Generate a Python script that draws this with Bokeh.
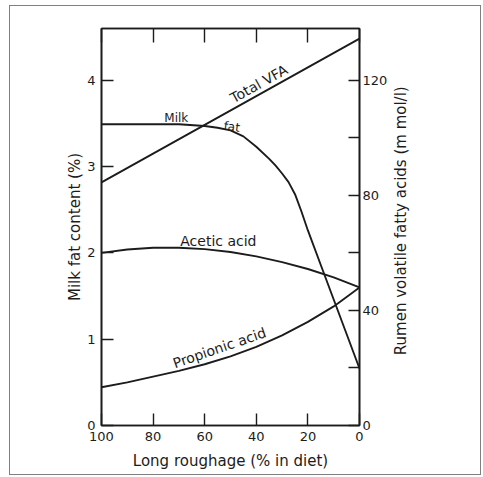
from bokeh.plotting import figure
from bokeh.layouts import row
from bokeh.models import Range1d, LinearAxis, FixedTicker, Label, InlineStyleSheet
from bokeh.embed import file_html
from bokeh.resources import INLINE

# ---- data ----
x_ticks = [100, 80, 60, 40, 20, 0]
fat_ticks = [0, 1, 2, 3, 4]
vfa_major_ticks = [0, 40, 80, 120]
vfa_minor_ticks = [20, 60, 100]

fat_x = [100, 80, 70, 60, 55, 50, 45, 40, 35, 32.5, 30, 27.5, 25, 22.5, 20, 15, 10, 5, 0]
milk_fat = [3.49, 3.49, 3.49, 3.47, 3.45, 3.42, 3.35, 3.23, 3.09, 3.01, 2.92, 2.82, 2.68, 2.48, 2.26, 1.86, 1.46, 1.06, 0.66]

vfa_x = [100, 80, 60, 40, 20, 0]
total_vfa = [84.5, 94.5, 104.5, 114.5, 124.5, 134.5]

acid_x = [100, 90, 80, 70, 60, 50, 40, 30, 20, 10, 0]
acetic = [60.0, 61.2, 61.8, 61.8, 61.3, 60.3, 58.8, 56.8, 54.4, 51.5, 48.0]
propionic = [13.3, 15.0, 17.0, 19.0, 21.3, 24.0, 27.3, 31.3, 36.0, 41.4, 48.0]

FONT = "DejaVu Sans"
INK = "#1c1c1c"
W_MAIN = 391

p = figure(width=W_MAIN, height=477, output_backend="svg", toolbar_location=None,
           x_range=Range1d(100, 0), y_range=Range1d(0, 4.6),
           x_axis_location=None, y_axis_location=None,
           min_border_left=101, min_border_right=W_MAIN - 359, min_border_top=28, min_border_bottom=52)
p.extra_y_ranges = {"vfa": Range1d(0, 138)}
p.grid.visible = False
p.outline_line_color = INK
p.outline_line_width = 1.6
p.background_fill_color = "white"
p.border_fill_color = "white"

def style_axis(ax, ticks_in):
    ax.axis_line_color = INK
    ax.axis_line_width = 1.6
    ax.major_tick_in = ticks_in
    ax.major_tick_out = 0
    ax.major_tick_line_color = INK
    ax.major_tick_line_width = 1.4
    ax.minor_tick_in = ticks_in
    ax.minor_tick_out = 0
    ax.minor_tick_line_color = INK
    ax.minor_tick_line_width = 1.4
    ax.major_label_text_font = FONT
    ax.major_label_text_font_size = "13px"
    ax.major_label_text_color = INK
    ax.axis_label_text_font = FONT
    ax.axis_label_text_font_size = "15px"
    ax.axis_label_text_font_style = "normal"
    ax.axis_label_text_color = INK

bottom = LinearAxis(ticker=FixedTicker(ticks=x_ticks, minor_ticks=[]), axis_label="Long roughage (% in diet)")
style_axis(bottom, 12)
bottom.major_label_standoff = 6
bottom.axis_label_standoff = 8
p.add_layout(bottom, "below")

top = LinearAxis(ticker=FixedTicker(ticks=x_ticks, minor_ticks=[]))
style_axis(top, 14)
top.major_label_text_alpha = 0
top.major_label_text_font_size = "8px"
p.add_layout(top, "above")

left = LinearAxis(ticker=FixedTicker(ticks=fat_ticks, minor_ticks=[]), axis_label="Milk fat content (%)")
style_axis(left, 12)
left.major_label_standoff = 6
left.axis_label_standoff = 0
p.add_layout(left, "left")

right = LinearAxis(y_range_name="vfa", ticker=FixedTicker(ticks=vfa_major_ticks, minor_ticks=vfa_minor_ticks))
style_axis(right, 11)
right.major_label_standoff = 3
p.add_layout(right, "right")

# ---- curves ----
p.line(fat_x, milk_fat, line_color=INK, line_width=1.9)
p.line(vfa_x, total_vfa, line_color=INK, line_width=1.9, y_range_name="vfa")
p.line(acid_x, acetic, line_color=INK, line_width=1.9, y_range_name="vfa")
p.line(acid_x, propionic, line_color=INK, line_width=1.9, y_range_name="vfa")

# ---- curve labels ----
def lab(fig, x, y, text, size, angle=0.0, rng="default"):
    fig.add_layout(Label(x=x, y=y, text=text, angle=angle, angle_units="deg",
                         text_font=FONT, text_font_size=size, text_color=INK,
                         text_align="center", text_baseline="middle", y_range_name=rng))

lab(p, 39.0, 118.8, "Total VFA", "14px", 29, "vfa")
lab(p, 71.0, 3.56, "Milk", "12px")
lab(p, 49.5, 3.46, "fat", "12px", -8)
lab(p, 54.7, 64.2, "Acetic acid", "14px", 0, "vfa")
lab(p, 54.3, 27.0, "Propionic acid", "14px", 19, "vfa")

# ---- narrow side panel carrying the right-hand axis title (reads bottom-to-top) ----
W_SIDE = 483 - W_MAIN
q = figure(width=W_SIDE, height=477, output_backend="svg", toolbar_location=None,
           x_range=Range1d(0, W_SIDE), y_range=Range1d(477, 0),
           x_axis_location=None, y_axis_location=None,
           min_border=0, min_border_left=0, min_border_right=0, min_border_top=0, min_border_bottom=0)
q.grid.visible = False
q.outline_line_color = None
q.background_fill_color = "white"
q.border_fill_color = "white"
lab(q, 400 - W_MAIN, 231, "Rumen volatile fatty acids (m mol/l)", "15px", 90)

layout = row(p, q, spacing=0)
# thin outer frame of the whole figure panel (page decoration)
layout.stylesheets = [InlineStyleSheet(css=(
    ":host{position:relative;}"
    ":host::after{content:'';position:absolute;left:9px;top:5px;width:472px;height:470px;"
    "border:1px solid #808080;box-sizing:border-box;pointer-events:none;}"
))]

open("out.html", "w").write(file_html(layout, INLINE))
